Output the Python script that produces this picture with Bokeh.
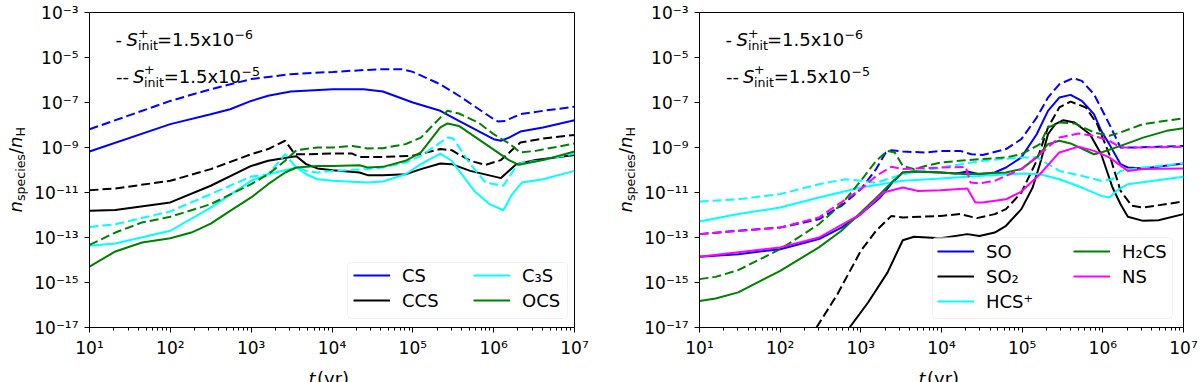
import numpy as np
from bokeh.plotting import figure
from bokeh.models import (FixedTicker, CustomJSTickFormatter, Label, Legend,
                          LegendItem, BoxAnnotation, Range1d)
from bokeh.layouts import row, column
from bokeh.embed import file_html
from bokeh.resources import INLINE

FONT = "DejaVu Sans"

# ---------------- axis ticks ----------------
x_major_ticks = [1e1, 1e2, 1e3, 1e4, 1e5, 1e6, 1e7]
y_major_ticks = [1e-17, 1e-15, 1e-13, 1e-11, 1e-9, 1e-7, 1e-5, 1e-3]
x_minor_ticks = [m * 10.0 ** k for k in range(1, 7) for m in range(2, 10)]

# ---------------- left panel data (log10 t [yr], log10 n/nH) ----------------
CS_t = [1.0, 2.0, 2.5, 2.74, 3.0, 3.21, 3.49, 4.01, 4.39, 4.63, 5.0, 5.34, 5.57, 6.0, 6.09, 6.19, 6.33, 6.61, 7.0]
CS_n = [-9.18, -7.96, -7.52, -7.30, -6.93, -6.70, -6.51, -6.41, -6.41, -6.51, -7.0, -7.37, -7.82, -8.63, -8.70, -8.56, -8.29, -8.11, -7.79]
CS_td = [1.0, 2.0, 2.5, 3.0, 3.49, 4.01, 4.39, 4.63, 4.86, 5.0, 5.34, 5.57, 6.0, 6.05, 6.14, 6.33, 6.61, 7.0]
CS_nd = [-8.19, -6.93, -6.41, -5.96, -5.74, -5.64, -5.56, -5.52, -5.52, -5.64, -6.19, -6.70, -7.74, -7.84, -7.82, -7.52, -7.37, -7.19]

CCS_t = [1.0, 1.32, 2.0, 2.5, 3.0, 3.21, 3.49, 3.56, 3.68, 3.82, 4.01, 4.34, 4.44, 4.63, 4.91, 5.1, 5.34, 5.48, 5.71, 6.09, 6.28, 6.52, 7.0]
CCS_n = [-11.81, -11.78, -11.44, -10.70, -9.82, -9.59, -9.42, -9.39, -9.74, -9.93, -10.01, -10.11, -10.23, -10.23, -10.19, -9.96, -9.71, -9.74, -10.04, -10.36, -9.74, -9.56, -9.33]
CCS_td = [1.0, 1.32, 2.0, 2.5, 3.0, 3.21, 3.42, 3.54, 3.68, 4.01, 4.25, 4.34, 4.63, 5.0, 5.34, 5.48, 5.71, 5.9, 6.09, 6.33, 6.61, 7.0]
CCS_nd = [-10.90, -10.82, -10.48, -9.96, -9.30, -9.07, -8.70, -9.30, -9.30, -9.27, -9.27, -9.42, -9.42, -9.37, -9.07, -9.12, -9.59, -9.77, -9.56, -8.78, -8.60, -8.44]

C3S_t = [1.0, 1.32, 2.0, 2.5, 3.0, 3.21, 3.42, 3.56, 3.68, 3.82, 4.01, 4.44, 4.63, 4.91, 5.1, 5.34, 5.48, 5.76, 5.95, 6.12, 6.23, 6.35, 6.61, 7.0]
C3S_n = [-13.37, -13.27, -12.70, -11.67, -10.48, -10.19, -10.01, -9.89, -10.19, -10.41, -10.48, -10.56, -10.51, -10.19, -9.74, -9.27, -9.59, -10.93, -11.52, -11.79, -11.07, -10.56, -10.41, -10.04]
C3S_td = [1.0, 1.32, 2.0, 2.5, 3.0, 3.21, 3.42, 3.54, 3.68, 3.82, 4.01, 4.44, 4.63, 4.91, 5.1, 5.43, 5.5, 5.71, 5.9, 6.12, 6.28, 6.35, 6.61, 7.0]
C3S_nd = [-12.53, -12.41, -11.84, -11.07, -10.29, -10.19, -9.30, -9.82, -10.04, -10.11, -10.04, -9.96, -9.89, -9.67, -9.37, -8.56, -8.60, -9.74, -10.56, -10.70, -9.82, -9.67, -9.56, -9.27]

OCS_t = [1.0, 1.32, 1.65, 2.0, 2.26, 2.5, 2.74, 3.0, 3.21, 3.42, 3.56, 3.82, 4.01, 4.34, 4.44, 4.63, 4.91, 5.1, 5.34, 5.43, 5.57, 5.81, 6.05, 6.19, 6.31, 6.61, 7.0]
OCS_n = [-14.29, -13.62, -13.22, -13.03, -12.78, -12.38, -11.82, -11.22, -10.63, -10.11, -9.89, -9.82, -9.82, -9.79, -9.89, -9.86, -9.59, -9.22, -8.11, -7.93, -8.04, -8.63, -9.22, -9.56, -9.77, -9.56, -9.18]
OCS_td = [1.0, 1.32, 1.65, 2.0, 2.5, 3.0, 3.21, 3.42, 3.56, 3.82, 4.01, 4.25, 4.44, 4.63, 4.91, 5.1, 5.34, 5.43, 5.57, 5.81, 6.0, 6.19, 6.33, 6.52, 7.0]
OCS_nd = [-13.33, -12.78, -12.33, -12.08, -11.52, -10.63, -10.19, -9.59, -9.12, -9.0, -9.0, -8.93, -9.04, -9.03, -8.85, -8.56, -7.67, -7.37, -7.49, -7.89, -8.41, -8.82, -9.22, -9.15, -8.82]

# ---------------- right panel data ----------------
SO_t = [1.0, 1.48, 2.0, 2.48, 2.76, 3.0, 3.24, 3.38, 3.52, 3.66, 3.99, 4.18, 4.32, 4.47, 4.66, 4.8, 4.99, 5.18, 5.32, 5.46, 5.6, 5.74, 5.89, 5.98, 6.08, 6.22, 6.31, 6.5, 7.0]
SO_n = [-13.86, -13.74, -13.52, -13.07, -12.56, -11.96, -11.22, -10.60, -10.11, -10.07, -10.11, -10.16, -10.07, -10.19, -10.11, -9.89, -9.44, -8.41, -7.37, -6.78, -6.66, -6.93, -7.52, -8.26, -8.85, -9.74, -9.89, -9.93, -9.71]
SO_td = [1.0, 1.48, 2.0, 2.48, 2.76, 3.0, 3.19, 3.31, 3.38, 3.52, 3.8, 3.99, 4.23, 4.37, 4.51, 4.8, 4.99, 5.18, 5.32, 5.46, 5.63, 5.74, 5.89, 6.08, 6.22, 6.41, 7.0]
SO_nd = [-12.85, -12.70, -12.56, -12.19, -11.59, -10.85, -9.96, -9.22, -9.12, -9.18, -9.22, -9.15, -9.15, -9.30, -9.33, -9.07, -8.63, -7.67, -6.78, -6.19, -5.92, -6.04, -6.63, -7.96, -9.0, -9.0, -8.93]

SO2_t = [2.86, 3.09, 3.33, 3.52, 3.66, 3.99, 4.32, 4.47, 4.66, 4.8, 4.99, 5.13, 5.22, 5.32, 5.41, 5.51, 5.65, 5.84, 5.98, 6.12, 6.22, 6.31, 6.5, 6.69, 7.0]
SO2_n = [-17.0, -15.89, -14.56, -13.12, -12.97, -13.03, -12.85, -12.93, -12.78, -12.48, -11.74, -10.78, -9.74, -8.41, -7.96, -7.79, -7.89, -8.41, -9.30, -10.78, -11.52, -12.08, -12.26, -12.23, -11.96]
SO2_td = [2.45, 2.71, 3.0, 3.19, 3.38, 3.52, 3.99, 4.23, 4.44, 4.66, 4.8, 4.99, 5.18, 5.32, 5.46, 5.6, 5.79, 5.93, 6.08, 6.22, 6.36, 6.5, 7.0]
SO2_nd = [-17.0, -15.52, -13.59, -12.70, -12.04, -12.11, -12.04, -11.96, -12.14, -11.96, -11.74, -11.0, -9.59, -8.11, -7.22, -6.96, -7.22, -7.96, -9.30, -10.93, -11.59, -11.67, -11.40]

HCSp_t = [1.0, 1.48, 2.0, 2.48, 3.0, 3.52, 3.99, 4.51, 4.99, 5.22, 5.46, 5.74, 5.98, 6.08, 6.17, 6.31, 7.0]
HCSp_n = [-12.29, -11.96, -11.67, -11.22, -10.78, -10.48, -10.38, -10.26, -10.16, -10.19, -10.41, -10.78, -11.15, -11.22, -10.93, -10.63, -10.30]
HCSp_td = [1.0, 1.48, 2.0, 2.48, 2.81, 3.0, 3.19, 3.52, 3.99, 4.51, 4.99, 5.18, 5.46, 5.74, 5.98, 6.12, 6.22, 6.5, 7.0]
HCSp_nd = [-11.40, -11.30, -11.07, -10.63, -10.41, -10.48, -10.56, -10.19, -9.89, -9.59, -9.44, -9.44, -10.04, -10.26, -10.48, -10.41, -10.04, -9.89, -9.71]

H2CS_t = [1.0, 1.2, 1.48, 2.0, 2.48, 2.76, 3.0, 3.24, 3.38, 3.52, 3.66, 3.99, 4.32, 4.8, 4.99, 5.18, 5.32, 5.46, 5.6, 5.89, 5.98, 6.22, 6.5, 6.79, 7.0]
H2CS_n = [-15.82, -15.71, -15.44, -14.48, -13.44, -12.70, -11.89, -11.07, -10.56, -10.11, -10.07, -10.11, -10.19, -10.11, -9.96, -9.44, -8.85, -8.70, -8.82, -9.30, -9.22, -8.93, -8.56, -8.26, -8.14]
H2CS_td = [1.0, 1.2, 1.48, 2.0, 2.48, 2.76, 3.0, 3.19, 3.33, 3.42, 3.52, 3.66, 3.8, 3.99, 4.32, 4.8, 4.99, 5.22, 5.32, 5.46, 5.65, 5.89, 6.08, 6.22, 6.5, 7.0]
H2CS_nd = [-14.85, -14.75, -14.45, -13.52, -12.41, -11.52, -10.48, -9.59, -9.15, -9.22, -9.82, -9.96, -9.82, -9.67, -9.56, -9.44, -9.30, -8.85, -8.11, -7.89, -7.93, -8.33, -8.48, -8.33, -7.96, -7.70]

NS_t = [1.0, 2.0, 2.48, 3.0, 3.28, 3.52, 3.71, 3.99, 4.32, 4.42, 4.51, 4.8, 4.99, 5.22, 5.46, 5.7, 5.89, 6.08, 6.31, 6.5, 7.0]
NS_n = [-13.86, -13.44, -13.0, -11.96, -11.0, -10.78, -10.93, -10.90, -10.82, -11.44, -11.44, -11.30, -10.96, -10.19, -9.22, -8.96, -9.15, -9.44, -10.04, -9.96, -9.93]
NS_td = [1.0, 2.0, 2.48, 3.0, 3.19, 3.38, 3.52, 3.99, 4.30, 4.36, 4.47, 4.66, 4.99, 5.22, 5.46, 5.7, 5.89, 6.08, 6.22, 6.41, 7.0]
NS_nd = [-12.85, -12.56, -12.11, -10.85, -10.26, -9.86, -9.96, -9.89, -9.86, -10.56, -10.60, -10.48, -9.96, -9.30, -8.56, -8.38, -8.48, -8.70, -9.0, -9.0, -8.97]

left_species = [("CS", "#0000ff", CS_t, CS_n, CS_td, CS_nd),
                ("CCS", "#000000", CCS_t, CCS_n, CCS_td, CCS_nd),
                ("C\u2083S", "#00ffff", C3S_t, C3S_n, C3S_td, C3S_nd),
                ("OCS", "#008000", OCS_t, OCS_n, OCS_td, OCS_nd)]
right_species = [("SO", "#0000ff", SO_t, SO_n, SO_td, SO_nd),
                 ("SO\u2082", "#000000", SO2_t, SO2_n, SO2_td, SO2_nd),
                 ("HCS\u207a", "#00ffff", HCSp_t, HCSp_n, HCSp_td, HCSp_nd),
                 ("H\u2082CS", "#008000", H2CS_t, H2CS_n, H2CS_td, H2CS_nd),
                 ("NS", "#ff00ff", NS_t, NS_n, NS_td, NS_nd)]

SUP_CODE = """
const sup = {"-": "\u207b", "0": "\u2070", "1": "\u00b9", "2": "\u00b2", "3": "\u00b3",
             "4": "\u2074", "5": "\u2075", "6": "\u2076", "7": "\u2077", "8": "\u2078", "9": "\u2079"};
const e = Math.round(Math.log10(tick));
return "10" + String(e).split("").map(c => sup[c]).join("");
"""

H_TOTAL = 382
BORDER_TOP = 12
FRAME_H = 315
BORDER_BOTTOM = 33
MAIN_H = BORDER_TOP + FRAME_H + BORDER_BOTTOM      # 360
XLAB_H = H_TOTAL - MAIN_H                          # 22


def lbl(x, y, text, size, style="normal", angle=0.0):
    # x, y in screen pixels from the frame's bottom-left corner
    return Label(x=x, y=y, x_units="screen", y_units="screen", text=text,
                 text_font=FONT, text_font_size=f"{size}px", text_font_style=style,
                 text_color="black", angle=angle, text_align="left",
                 text_baseline="alphabetic")


def blank_fig(w, h, bt=0, bb=0):
    f = figure(title=None, width=w, height=h,
               x_range=Range1d(0, 1), y_range=Range1d(0, 1),
               x_axis_location=None, y_axis_location=None,
               output_backend="svg", toolbar_location=None,
               min_border=0, min_border_left=0, min_border_right=0,
               min_border_top=bt, min_border_bottom=bb)
    f.grid.visible = False
    f.outline_line_color = None
    f.background_fill_color = "white"
    f.border_fill_color = "white"
    return f


def ylabel_fig(w, xb):
    # n_species / n_H written bottom-to-top; frame matches the plot frame vertically
    f = blank_fig(w, MAIN_H, BORDER_TOP, BORDER_BOTTOM)
    a = np.pi / 2
    f.add_layout(lbl(xb, 115, "n", 18, "italic", a))
    f.add_layout(lbl(xb + 5, 126.4, "species", 12.6, "normal", a))
    f.add_layout(lbl(xb, 173.5, "/", 18, "normal", a))
    f.add_layout(lbl(xb, 179.6, "n", 18, "italic", a))
    f.add_layout(lbl(xb + 5, 191, "H", 12.6, "normal", a))
    return f


def xlabel_strip():
    # full-width strip under both panels holding the "t (yr)" labels
    f = blank_fig(1200, XLAB_H)
    for xt in (308.0, 918.0):
        f.add_layout(lbl(xt, 4.5, "t", 18, "italic"))
        f.add_layout(lbl(xt + 8.5, 4.5, "(yr)", 18, "normal"))
    return f


def make_fig(w, bl, br):
    p = figure(width=w, height=MAIN_H, x_axis_type="log", y_axis_type="log",
               x_range=(1e1, 1e7), y_range=(1e-17, 1e-3),
               output_backend="svg", toolbar_location=None,
               min_border_left=bl, min_border_right=br,
               min_border_top=BORDER_TOP, min_border_bottom=BORDER_BOTTOM)
    p.grid.visible = False
    p.outline_line_color = "black"
    p.outline_line_alpha = 1.0
    p.outline_line_width = 1
    p.background_fill_color = "white"
    p.border_fill_color = "white"
    p.xaxis.ticker = FixedTicker(ticks=x_major_ticks, minor_ticks=x_minor_ticks)
    p.yaxis.ticker = FixedTicker(ticks=y_major_ticks, minor_ticks=[])
    for ax in (p.xaxis[0], p.yaxis[0]):
        ax.formatter = CustomJSTickFormatter(code=SUP_CODE)
        ax.axis_line_color = "black"
        ax.major_tick_line_color = "black"
        ax.minor_tick_line_color = "black"
        ax.major_tick_out = 5
        ax.major_tick_in = 0
        ax.minor_tick_out = 3
        ax.minor_tick_in = 0
        ax.major_label_text_font = FONT
        ax.major_label_text_font_size = "17px"
        ax.major_label_text_color = "black"
        ax.major_label_standoff = 5
    p.yaxis.major_label_standoff = 6

    # annotations S+_init
    p.add_layout(lbl(26, 288, "-", 18))
    p.add_layout(lbl(37, 288, "S", 18, "italic"))
    p.add_layout(lbl(48.5, 294.3, "+", 12.6))
    p.add_layout(lbl(48.5, 282, "init", 12.6))
    p.add_layout(lbl(67.5, 288, "=1.5x10", 18))
    p.add_layout(lbl(145, 293, "\u22126", 12.6))

    p.add_layout(lbl(26.5, 251, "--", 18))
    p.add_layout(lbl(43.5, 251, "S", 18, "italic"))
    p.add_layout(lbl(54.5, 257.7, "+", 12.6))
    p.add_layout(lbl(54.5, 245.3, "init", 12.6))
    p.add_layout(lbl(74.2, 251, "=1.5x10", 18))
    p.add_layout(lbl(152, 256.3, "\u22125", 12.6))
    return p


def draw(p, species):
    solids = []
    for name, color, t, n, td, nd in species:
        r = p.line(10 ** np.array(t), 10 ** np.array(n), line_color=color, line_width=2)
        p.line(10 ** np.array(td), 10 ** np.array(nd), line_color=color, line_width=2,
               line_dash="9 4")
        solids.append((name, r))
    return solids


def add_legend(p, entries, x, y):
    items = [LegendItem(label=name, renderers=[r]) for name, r in entries]
    leg = Legend(items=items, location=(x, y), orientation="vertical",
                 padding=0, margin=0, spacing=3, glyph_width=37, glyph_height=22,
                 label_height=22, label_standoff=12, label_text_font=FONT,
                 label_text_font_size="18px", label_text_color="black",
                 label_text_baseline="middle",
                 border_line_color=None, background_fill_alpha=0.0)
    p.add_layout(leg, "center")


def add_box(p, l, r, b, t):
    p.add_layout(BoxAnnotation(left=l, right=r, bottom=b, top=t,
                               left_units="screen", right_units="screen",
                               bottom_units="screen", top_units="screen",
                               fill_color="white", fill_alpha=0.8,
                               line_color="#cccccc", line_width=1, border_radius=4))


# left block: 0..600 ; frame 89..574
YL1_W = 28
p1 = make_fig(600 - YL1_W, 89 - YL1_W, 26)
s1 = draw(p1, left_species)
add_box(p1, 258, 478, 9, 65)
add_legend(p1, [s1[0], s1[1]], 264, 16)
add_legend(p1, [s1[2], s1[3]], 384, 16)
yl1 = ylabel_fig(YL1_W, 15.3)

# right block: 600..1200 ; frame 699..1183
YL2_W = 38
p2 = make_fig(600 - YL2_W, 699 - 600 - YL2_W, 17)
s2 = draw(p2, right_species)
add_box(p2, 233, 473, 9, 90)
add_legend(p2, [s2[0], s2[1], s2[2]], 238, 15)
add_legend(p2, [s2[3], s2[4]], 374, 40)
yl2 = ylabel_fig(YL2_W, 25)

layout = column(row(yl1, p1, yl2, p2), row(xlabel_strip()))
open("out.html", "w").write(file_html(layout, INLINE))
